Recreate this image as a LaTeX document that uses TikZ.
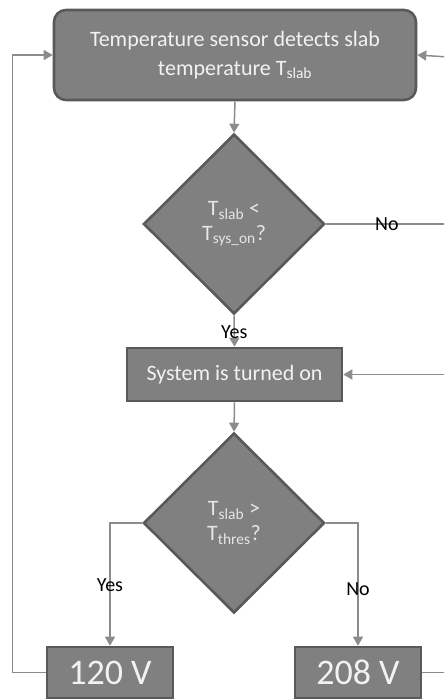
\documentclass[tikz,border=0pt]{standalone}
\usepackage{fontspec}
\setmainfont{Carlito}
\usetikzlibrary{shapes.geometric,arrows.meta}
\definecolor{boxfill}{HTML}{808080}
\definecolor{boxline}{HTML}{595959}
\definecolor{conn}{HTML}{8C8C8C}
\definecolor{boxtext}{HTML}{F2F2F2}
\definecolor{dtext}{HTML}{E6E6E6}
\tikzset{
  procbox/.style={draw=boxline, line width=2.6pt, fill=boxfill, text=boxtext, align=center, inner sep=0pt},
  decbox/.style={diamond, draw=boxline, line width=2.6pt, fill=boxfill, text=dtext, align=center, inner sep=0pt, minimum width=181pt, minimum height=180pt, font=\fontsize{22}{25}\selectfont},
  conn/.style={draw=conn, line width=1.5pt},
  arr/.style={conn, -{Triangle[length=9pt,width=10pt]}},
  lbl/.style={text=black, font=\fontsize{20}{24}\selectfont, inner sep=0pt},
}
\begin{document}
\begin{tikzpicture}[x=1pt,y=-1pt]
\useasboundingbox (0,0) rectangle (444,700);
\clip (0,0) rectangle (444,700);
\node[procbox, rounded corners=12pt, minimum width=362pt, minimum height=90pt, font=\fontsize{22}{29}\selectfont] (sense) at (235,55) {Temperature sensor detects slab\\temperature T\textsubscript{slab}};
\node[decbox] (d1) at (234,224) {T\textsubscript{slab} <\\T\textsubscript{sys\_on}?};
\node[procbox, minimum width=215pt, minimum height=53pt, font=\fontsize{22}{26}\selectfont] (sys) at (234.5,374.5) {System is turned on};
\node[decbox] (d2) at (234,523) {T\textsubscript{slab} >\\T\textsubscript{thres}?};
\node[procbox, minimum width=126pt, minimum height=51pt, font=\fontsize{36}{40}\selectfont] (v120) at (110,672.5) {120 V};
\node[procbox, minimum width=126pt, minimum height=51pt, font=\fontsize{36}{40}\selectfont] (v208) at (358,672.5) {208 V};
\coordinate (rno) at (448,224);
\coordinate (rsys) at (448,374.5);
\coordinate (rsense) at (448,57);
\coordinate (r208) at (448,672.5);
\draw[arr] (sense.south) -- (d1.north);
\draw[arr] (d1.south) -- node[lbl, pos=0.55]{Yes} (sys.north);
\draw[conn] (d1.east) -- node[lbl, pos=0.5]{No} (rno);
\draw[arr] (rsys) -- (sys.east);
\draw[arr] (rsense) -- (sense.east);
\draw[conn] (v208.east) -- (r208);
\draw[arr] (sys.south) -- (d2.north);
\draw[arr] (d2.west) -| node[lbl, pos=0.755]{Yes} (v120.north);
\draw[arr] (d2.east) -| node[lbl, pos=0.77]{No} (v208.north);
\draw[arr] (v120.west) -- ++(-33,0) |- (sense.west);
\end{tikzpicture}
\end{document}
